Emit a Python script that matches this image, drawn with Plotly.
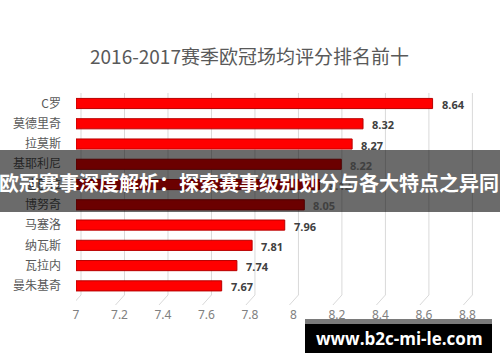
import plotly.graph_objects as go

players = ["C罗", "莫德里奇", "拉莫斯", "基耶利尼", "迪巴拉", "博努奇", "马塞洛", "纳瓦斯", "瓦拉内", "曼朱基奇"]
ratings = [8.64, 8.32, 8.27, 8.22, 8.12, 8.05, 7.96, 7.81, 7.74, 7.67]
x_ticks = [7, 7.2, 7.4, 7.6, 7.8, 8, 8.2, 8.4, 8.6, 8.8]
x_tick_text = ["7", "7.2", "7.4", "7.6", "7.8", "8", "8.2", "8.4", "8.6", "8.8"]
title_text = "2016-2017赛季欧冠场均评分排名前十"
banner_text = "欧冠赛事深度解析：探索赛事级别划分与各大特点之异同"
watermark_text = "www.b2c-mi-le.com"

W, H = 500, 362
M_L, M_R, M_T, M_B = 76, 0, 93, 66
PLOT_H = H - M_T - M_B


def py(pix):
    """pixel y (from top) -> paper y"""
    return (H - M_B - pix) / PLOT_H


def px(pix):
    return (pix - M_L) / (W - M_L - M_R)


fig = go.Figure()
fig.add_trace(go.Bar(
    y=players, x=[r - 7 for r in ratings], base=7, orientation="h",
    marker=dict(color="#ff0000", line=dict(color="#b80000", width=1)),
    width=0.5, hoverinfo="skip",
))

shapes = []
# gridlines (offset back wall, 3D look)
for t in x_ticks:
    shapes.append(dict(type="line", xref="x", yref="paper", xsizemode="pixel", xanchor=t,
                       x0=5, x1=5, y0=0.005, y1=1.0, line=dict(color="#d9d9d9", width=1), layer="below"))
    shapes.append(dict(type="line", xref="x", yref="paper", xsizemode="pixel", xanchor=t,
                       x0=5, x1=-4, y0=0.005, y1=py(305), line=dict(color="#d9d9d9", width=1), layer="below"))

# banner overlay
shapes.append(dict(type="rect", xref="paper", yref="paper", x0=px(0), x1=px(500), y0=py(212), y1=py(150),
                   fillcolor="rgba(0,0,0,0.58)", line=dict(width=0), layer="above"))
# watermark box
shapes.append(dict(type="rect", xref="paper", yref="paper", x0=px(305), x1=px(492), y0=py(324), y1=py(319),
                   fillcolor="#7a7a7a", line=dict(width=0), layer="above"))
shapes.append(dict(type="rect", xref="paper", yref="paper", x0=px(305), x1=px(492), y0=py(353), y1=py(324),
                   fillcolor="#000000", line=dict(width=0), layer="above"))

annotations = []
for p, r in zip(players, ratings):
    annotations.append(dict(x=r, y=p, xref="x", yref="y", text=f"{r:.2f}", showarrow=False,
                            xanchor="left", xshift=7, yshift=-1,
                            font=dict(family="Noto Sans, DejaVu Sans", size=11, color="#404040", weight="bold")))

annotations.append(dict(x=px(249), y=py(55), xref="paper", yref="paper", text=title_text, showarrow=False,
                        xanchor="center", yanchor="middle",
                        font=dict(family="Noto Sans CJK SC", size=19, color="#595959")))
annotations.append(dict(x=px(249), y=py(182), xref="paper", yref="paper", text=banner_text, showarrow=False,
                        xanchor="center", yanchor="middle",
                        font=dict(family="Noto Sans CJK SC", size=20, color="#ffffff", weight="bold")))
annotations.append(dict(x=px(399), y=py(338), xref="paper", yref="paper", text=watermark_text, showarrow=False,
                        xanchor="center", yanchor="middle",
                        font=dict(family="Open Sans, Noto Sans", size=17, color="#ffffff", weight="bold")))

fig.update_layout(
    width=W, height=H,
    margin=dict(l=M_L, r=M_R, t=M_T, b=M_B, pad=0),
    paper_bgcolor="white", plot_bgcolor="white",
    showlegend=False,
    bargap=0.5,
    shapes=shapes,
    annotations=annotations,
    xaxis=dict(range=[7, 8.95], tickvals=x_ticks, ticktext=x_tick_text, showgrid=False, zeroline=False,
               showline=False, ticks="", ticklabelstandoff=10,
               tickfont=dict(family="Noto Sans, DejaVu Sans", size=12, color="#808080")),
    yaxis=dict(autorange="reversed", showgrid=False, zeroline=False, showline=False, ticks="",
               ticklabelstandoff=14,
               tickfont=dict(family="Noto Sans CJK SC", size=12, color="#595959")),
)

fig.write_html("out.html")
